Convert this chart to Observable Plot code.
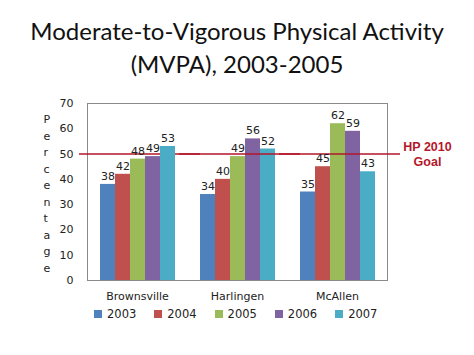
<!DOCTYPE html>
<html>
<head>
<meta charset="utf-8">
<script src="https://cdn.jsdelivr.net/npm/d3@7"></script>
<script src="https://cdn.jsdelivr.net/npm/@observablehq/plot@0.6"></script>
<style>
  body { margin: 0; background: #fff; width: 474px; height: 355px; overflow: hidden; }
  #title { font-family: Lato, sans-serif; font-size: 24px; line-height: 33px; text-align: center; color: #111; padding-top: 14px; height: 78px; }
  #chart { position: relative; }
  #leg { margin-left: 94px; margin-top: -10px; }
  #leg .lg-swatches { font-family: "DejaVu Sans", sans-serif; font-size: 11.5px; color: #222; margin: 0; }
  #leg .lg-swatch { margin-right: 18px; }
  #leg .lg-swatch > svg { margin-right: 5px; }
</style>
</head>
<body>
<div id="title">Moderate-to-Vigorous Physical Activity<br>(MVPA), 2003-2005</div>
<div id="chart"></div>
<div id="leg"></div>
<script>
const cities = ["Brownsville", "Harlingen", "McAllen"];
const years = ["2003", "2004", "2005", "2006", "2007"];
const brownsville = [38, 42, 48, 49, 53];
const harlingen = [34, 40, 49, 56, 52];
const mcallen = [35, 45, 62, 59, 43];
const goal = 50;
const goalLabel = "HP 2010\nGoal";
const yLabel = "Percentage";
const yTicks = [0, 10, 20, 30, 40, 50, 60, 70];
const colors = ["#4F81BD", "#C0504D", "#9BBB59", "#8064A2", "#4BACC6"];
const goalColor = "#b5162b";

const series = [brownsville, harlingen, mcallen];
const data = [];
cities.forEach((c, i) => years.forEach((y, j) => data.push({city: c, year: y, value: series[i][j]})));
const goalRows = cities.map(c => ({city: c, goal}));
const ruleOpts = {fx: "city", y: "goal", stroke: goalColor, strokeWidth: 1.5, insetLeft: -8, insetRight: -13};

const chart = Plot.plot({
  width: 474,
  height: 215,
  marginLeft: 87,
  marginRight: 87,
  marginTop: 11,
  marginBottom: 27,
  style: {fontFamily: "DejaVu Sans, sans-serif", fontSize: "11px", color: "#222", background: "transparent"},
  fx: {domain: cities, padding: 0, axis: "bottom", label: null, tickSize: 0, tickPadding: 12, fontSize: 12},
  x: {domain: years, axis: null, paddingInner: 0, paddingOuter: 0.745},
  y: {domain: [0, 70], ticks: yTicks, tickSize: 0, tickPadding: 14, label: null},
  color: {domain: years, range: colors},
  marks: [
    Plot.frame({facet: "super", stroke: "#8a8a8a"}),
    Plot.ruleY(goalRows.filter(d => d.city === cities[0]), ruleOpts),
    Plot.barY(data, {fx: "city", x: "year", y: "value", fill: "year"}),
    Plot.ruleY(goalRows.filter(d => d.city !== cities[0]), ruleOpts),
    Plot.text(data, {fx: "city", x: "year", y: "value", text: "value", dy: -8, fill: "#222", fontSize: 11}),
    Plot.text([goal], {fx: () => cities[2], y: d => d, text: () => goalLabel, frameAnchor: "right", textAnchor: "middle", dx: 40, fill: goalColor, fontWeight: "bold", fontFamily: "Liberation Sans, Arial, sans-serif", fontSize: 12.5, lineHeight: 1.2}),
    Plot.text([yLabel], {facet: "super", text: d => d.split("").join("\n"), frameAnchor: "left", dx: -44, fontSize: 11, lineHeight: 1.5, fill: "#222"})
  ]
});
document.getElementById("chart").appendChild(chart);
const leg = chart.legend("color", {legend: "swatches", className: "lg", swatchSize: 8});
document.getElementById("leg").appendChild(leg);
</script>
</body>
</html>
